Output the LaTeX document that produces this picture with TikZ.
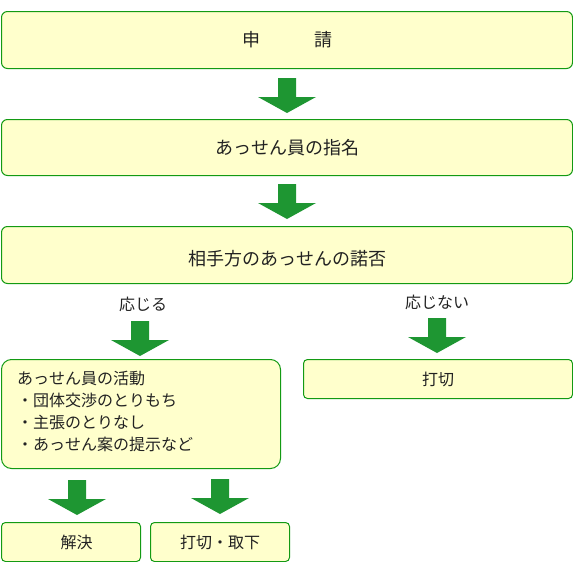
\documentclass[tikz,border=0pt]{standalone}
\usepackage{fontspec}
\setmainfont{Noto Sans CJK JP}
\usetikzlibrary{calc}
\definecolor{boxfill}{HTML}{FFFFCC}
\definecolor{boxline}{HTML}{139A13}
\definecolor{arrowgreen}{HTML}{1E9632}
\definecolor{txt}{HTML}{222222}
\begin{document}
\begin{tikzpicture}[x=1pt,y=-1pt,
  box/.style={draw=boxline, fill=boxfill, line width=1pt, text=txt, inner sep=0pt, anchor=north west},
  bigfont/.style={font=\fontsize{18}{22}\selectfont},
  smallfont/.style={font=\fontsize{16}{22}\selectfont},
  lbl/.style={smallfont, text=txt, inner sep=0pt},
  bigarrow/.pic={\fill[arrowgreen] (-9,0) -- (9,0) -- (9,19) -- (29,19) -- (0,35) -- (-29,19) -- (-9,19) -- cycle;}]
\useasboundingbox (0,0) rectangle (573,562);
% main column
\node[box, bigfont, rounded corners=6pt, minimum width=571pt, minimum height=57pt] (b1) at (1,11) {申　　　請};
\node[box, bigfont, rounded corners=6pt, minimum width=571pt, minimum height=56pt] (b2) at (1,119) {あっせん員の指名};
\node[box, rounded corners=6pt, minimum width=571pt, minimum height=57pt] (b3) at (1,226) {};
\node[bigfont, text=txt, inner sep=0pt] (b3text) at ($(b3.center)+(0,3.5)$) {相手方のあっせんの諾否};
\pic at ($(b1.south)+(0,9)$) {bigarrow};
\pic at ($(b2.south)+(0,8)$) {bigarrow};
% branch labels
\node[lbl] (yes) at (143,304) {応じる};
\node[lbl] (no) at (437,302) {応じない};
\pic at (140,321) {bigarrow};
\pic at (437,318) {bigarrow};
% activity box
\node[box, rounded corners=10pt, minimum width=279pt, minimum height=109pt] (act) at (1,359) {};
\node[lbl, anchor=west, align=left] (acttext) at (17,411) {あっせん員の活動\\・団体交渉のとりもち\\・主張のとりなし\\・あっせん案の提示など};
% refuse box
\node[box, smallfont, rounded corners=4pt, minimum width=269pt, minimum height=39pt] (cut1) at (303,359) {打切};
% bottom
\pic at (77,480) {bigarrow};
\pic at (220,479) {bigarrow};
\node[box, smallfont, rounded corners=4pt, minimum width=139pt, minimum height=39pt] (sol) at (1,522) {\hspace{11pt}解決};
\node[box, smallfont, rounded corners=4pt, minimum width=139pt, minimum height=39pt] (cut2) at (150,522) {打切・取下};
\end{tikzpicture}
\end{document}
